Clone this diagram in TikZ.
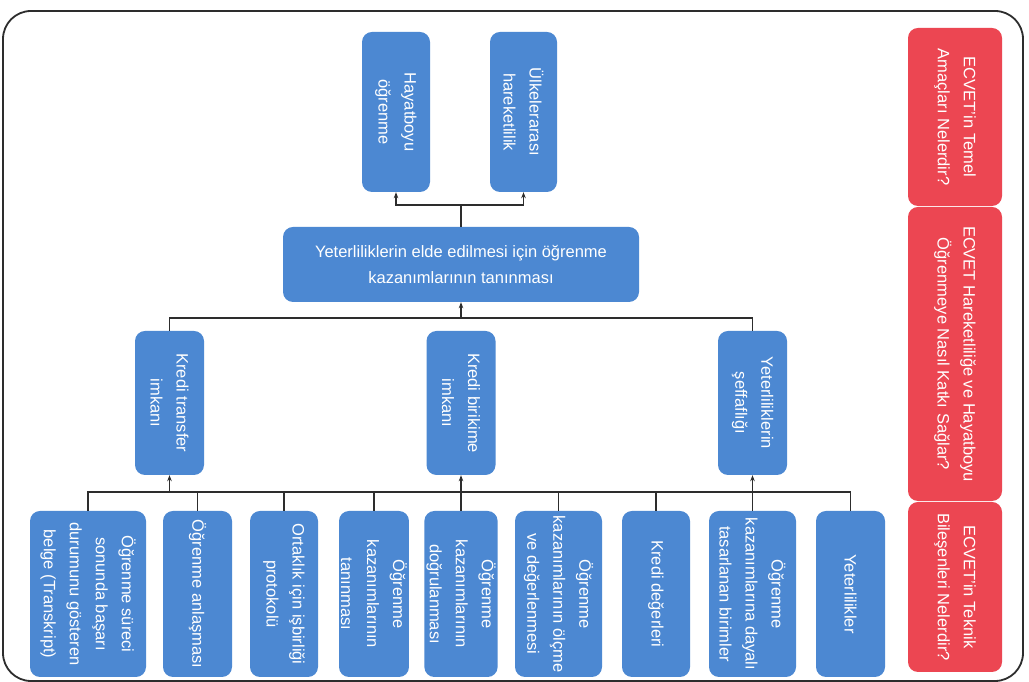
\documentclass[tikz,border=0pt]{standalone}
\usepackage{fontspec}
\setmainfont{Liberation Sans}
\usetikzlibrary{arrows.meta}
\definecolor{boxblue}{RGB}{76,136,210}
\definecolor{boxred}{RGB}{236,70,82}
\definecolor{linegray}{RGB}{45,45,45}
\tikzset{
  bbox/.style={draw=none, fill=boxblue, rounded corners=10pt, text=white, align=center,
    font=\fontsize{16.5}{26}\selectfont, inner sep=2pt},
  vbox/.style={bbox, rotate=-90},
  rbox/.style={draw=none, fill=boxred, rounded corners=10pt, text=white, align=center,
    font=\fontsize{16.5}{26}\selectfont, inner sep=2pt, rotate=-90},
  conn/.style={draw=linegray, line width=1.7pt},
  arr/.style={conn, -{Stealth[length=6pt,width=4.5pt]}},
  frame/.style={draw=linegray, line width=1.8pt, rounded corners=28pt}
}
\begin{document}
\begin{tikzpicture}[x=1pt,y=1pt]
\useasboundingbox (0,0) rectangle (1029,682);
\fill[white] (0,0) rectangle (1029,682);
\draw[frame] (3,1) rectangle (1023,671);

% top level
\node[vbox, minimum width=160pt, minimum height=68pt] (hay) at (396,570) {Hayatboyu\\öğrenme};
\node[vbox, minimum width=160pt, minimum height=67pt] (ulk) at (523.5,570) {Ülkelerarası\\hareketlilik};

% central
\node[bbox, minimum width=356pt, minimum height=75pt] (cen) at (461,417.5)
  {Yeterliliklerin elde edilmesi için öğrenme\\kazanımlarının tanınması};

% middle
\node[vbox, minimum width=144pt, minimum height=69pt] (kt) at (169.5,279) {Kredi transfer\\imkanı};
\node[vbox, minimum width=144pt, minimum height=69pt] (kb) at (461,279) {Kredi birikime\\imkanı};
\node[vbox, minimum width=144pt, minimum height=69pt] (ys) at (752.5,279) {Yeterliliklerin\\şeffaflığı};

% bottom
\node[vbox, minimum width=166pt, minimum height=116pt] (b1) at (88,88) {Öğrenme süreci\\sonunda başarı\\durumunu gösteren\\belge (Transkript)};
\node[vbox, minimum width=166pt, minimum height=69pt] (b2) at (197.5,88) {Öğrenme anlaşması};
\node[vbox, minimum width=166pt, minimum height=68pt] (b3) at (284,88) {Ortaklık için işbirliği\\protokolü};
\node[vbox, minimum width=166pt, minimum height=68pt] (b4) at (374,88) {Öğrenme\\kazanımlarının\\tanınması};
\node[vbox, minimum width=166pt, minimum height=70pt] (b5) at (461,88) {Öğrenme\\kazanımlarının\\doğrulanması};
\node[vbox, minimum width=166pt, minimum height=87pt] (b6) at (558.5,88) {Öğrenme\\kazanımlarının ölçme\\ve değerlenmesi};
\node[vbox, minimum width=166pt, minimum height=68pt] (b7) at (656,88) {Kredi değerleri};
\node[vbox, minimum width=166pt, minimum height=87pt] (b8) at (752.5,88) {Öğrenme\\kazanımlarına dayalı\\tasarlanan birimler};
\node[vbox, minimum width=166pt, minimum height=69pt] (b9) at (850.5,88) {Yeterlilikler};

% red side boxes
\node[rbox, minimum width=178pt, minimum height=94pt] (r1) at (955,565) {ECVET’in Temel\\Amaçları Nelerdir?};
\node[rbox, minimum width=294pt, minimum height=94pt] (r2) at (955,328) {ECVET Hareketliliğe ve Hayatboyu\\Öğrenmeye Nasıl Katkı Sağlar?};
\node[rbox, minimum width=170pt, minimum height=94pt] (r3) at (955,95) {ECVET’in Teknik\\Bileşenleri Nelerdir?};

% bracket coordinates
\coordinate (tb) at (461,477);
\coordinate (mb) at (461,364);
\coordinate (bb) at (461,190);

% top connectors
\draw[conn] (cen.north) -- (tb);
\draw[arr] (tb) -| (hay.east);
\draw[arr] (tb) -| (ulk.east);

% middle connectors
\draw[arr] (mb) -- (cen.south);
\draw[conn] (kt.west) |- (mb) -| (ys.west);

% bottom bracket
\draw[conn] (b1.west) |- (bb) -| (b9.west);
\draw[conn] (b2.west) -- (b2.west |- bb);
\draw[conn] (b3.west) -- (b3.west |- bb);
\draw[conn] (b4.west) -- (b4.west |- bb);
\draw[conn] (b6.west) -- (b6.west |- bb);
\draw[conn] (b7.west) -- (b7.west |- bb);
\draw[arr] (kt.east |- bb) -- (kt.east);
\draw[arr] (b5.west) -- (kb.east);
\draw[arr] (b8.west) -- (ys.east);
\end{tikzpicture}
\end{document}
